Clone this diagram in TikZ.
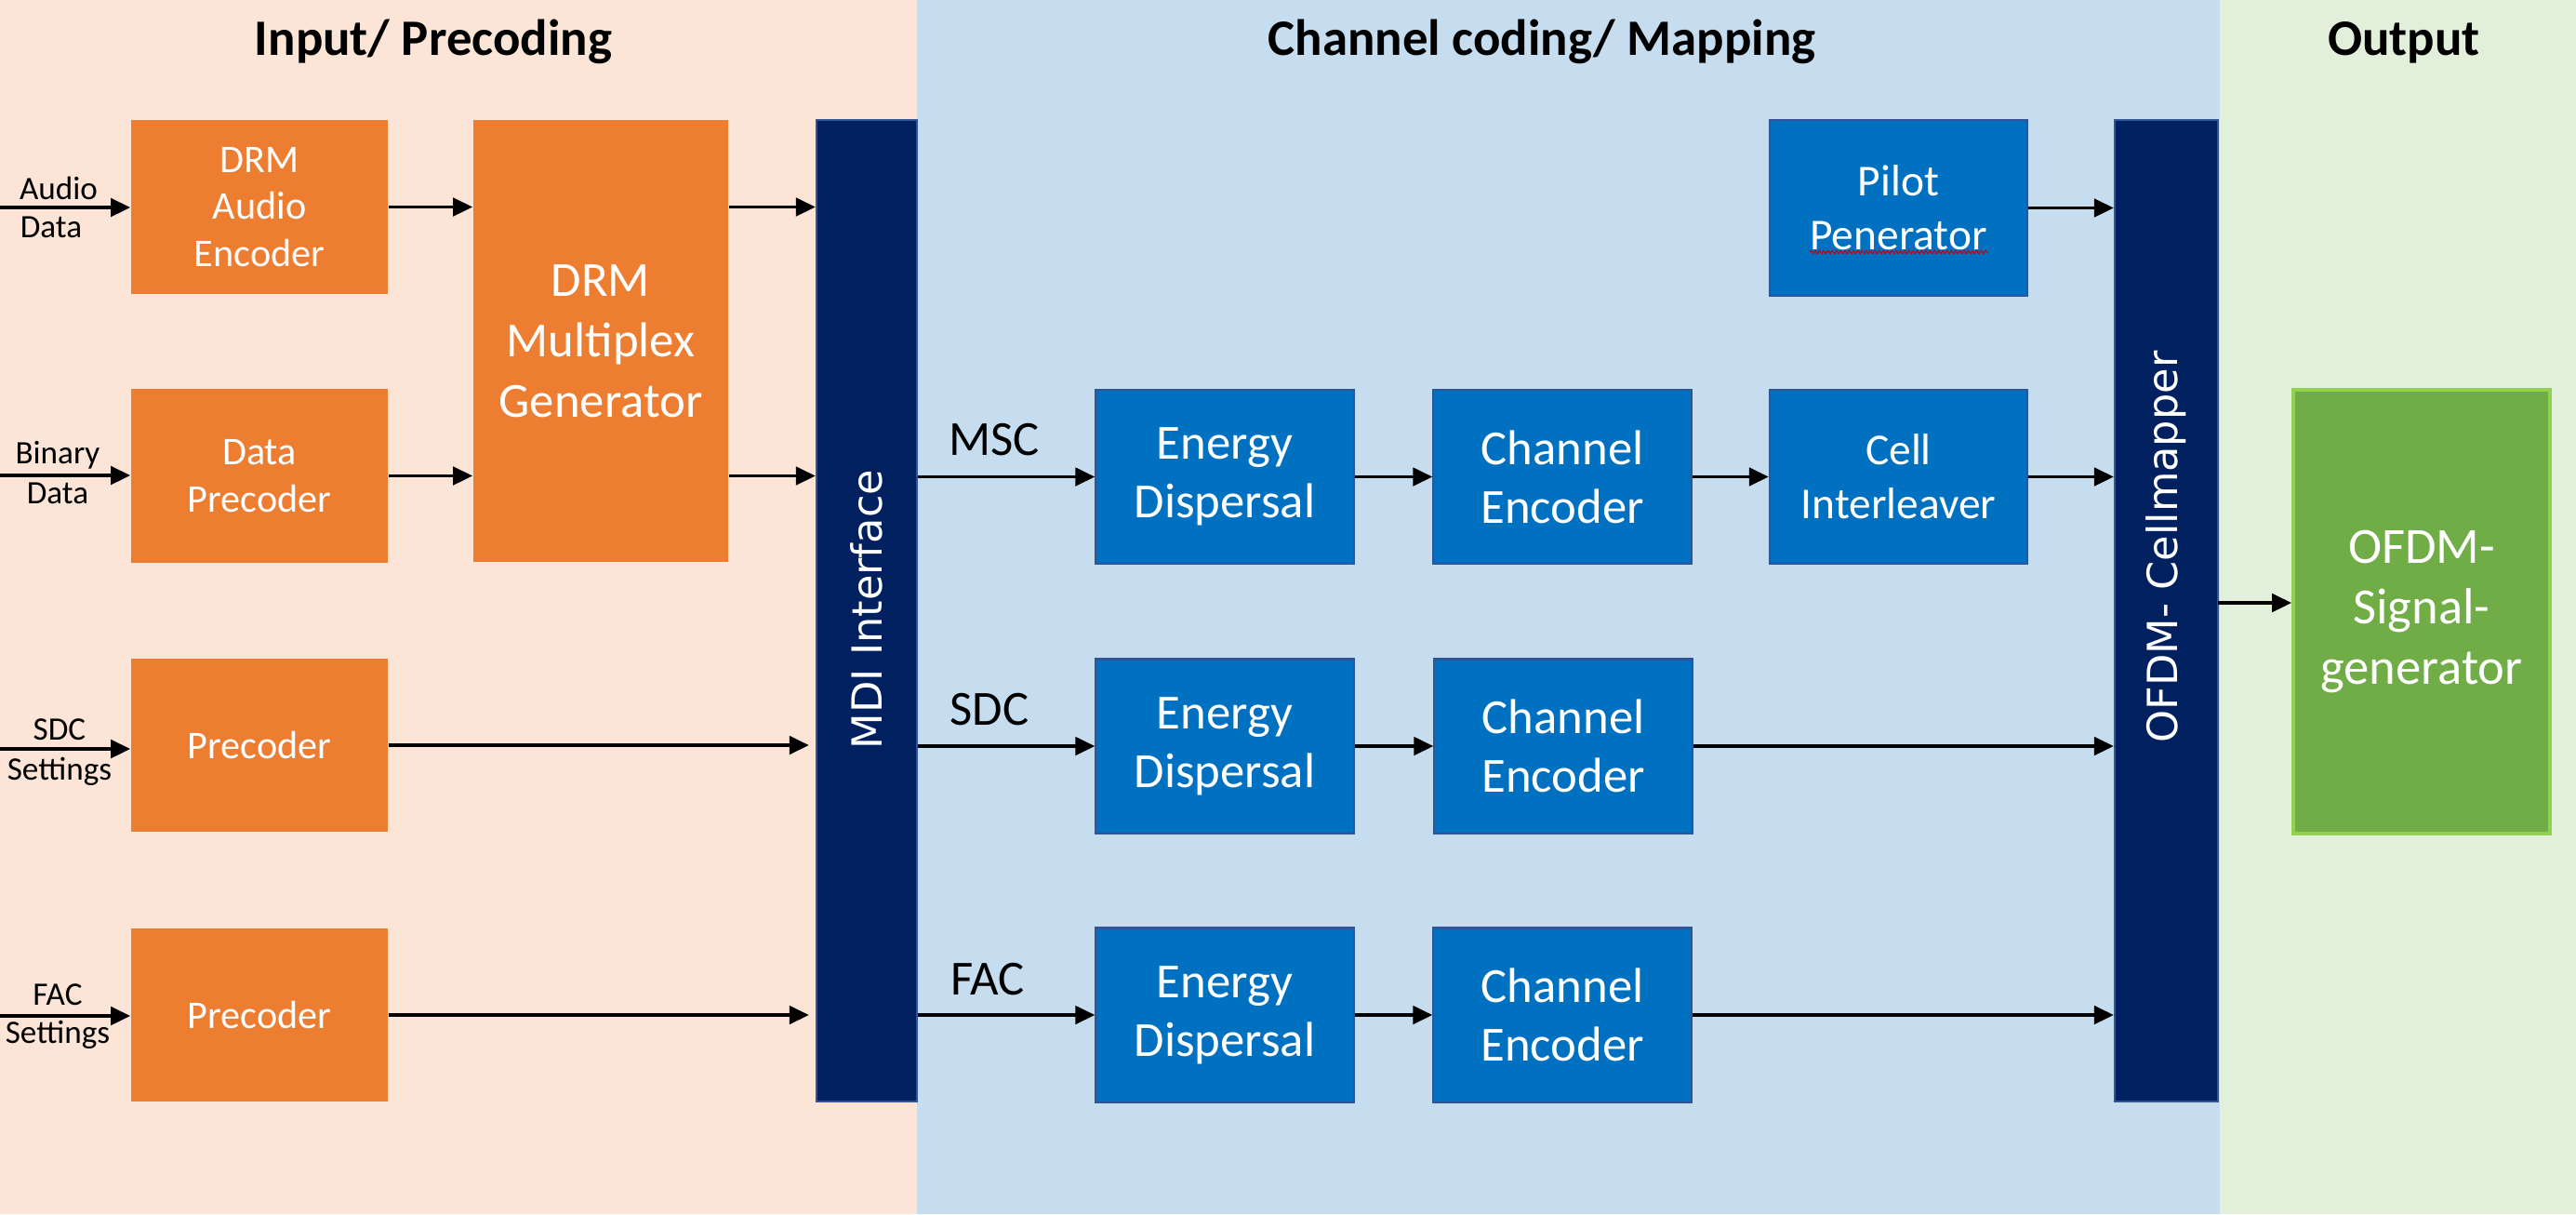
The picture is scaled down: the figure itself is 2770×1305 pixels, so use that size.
\documentclass[tikz,border=0pt]{standalone}
\usepackage{fontspec}
\setmainfont{Carlito}
\newfontfamily\dejavu{DejaVu Sans}
\usetikzlibrary{arrows.meta,decorations.pathmorphing}
\definecolor{bgorange}{HTML}{FCE4D6}
\definecolor{bgblue}{HTML}{C6DDF0}
\definecolor{bggreen}{HTML}{E2EFDA}
\definecolor{orangebx}{HTML}{ED7D31}
\definecolor{bluebx}{HTML}{0070C0}
\definecolor{bluebd}{HTML}{2F5597}
\definecolor{navybx}{HTML}{002060}
\definecolor{greenbx}{HTML}{70AD47}
\definecolor{greenbd}{HTML}{92D050}
\begin{document}
\begin{tikzpicture}[x=0.01cm,y=-0.01cm,
  obox/.style={fill=orangebx, draw=none, text=white, align=center, inner sep=0pt,
    minimum width=2.76cm, minimum height=1.86cm, font=\fontsize{12}{14.3}\selectfont},
  bbox/.style={fill=bluebx, draw=bluebd, line width=0.6pt, text=white, align=center, inner sep=0pt,
    minimum width=2.77cm, minimum height=1.87cm, font=\fontsize{15}{18}\selectfont},
  bboxs/.style={bbox, font=\fontsize{13.5}{16.5}\selectfont},
  barbox/.style={fill=navybx, draw=bluebd, line width=0.6pt, inner sep=0pt,
    minimum height=10.55cm},
  bartext/.style={rotate=90, text=white, font=\dejavu\fontsize{12.7}{15}\selectfont},
  ttl/.style={font=\bfseries\fontsize{15.6}{19}\selectfont, anchor=base},
  inlbl/.style={font=\fontsize{10}{12}\selectfont, inner sep=0pt},
  chlbl/.style={font=\fontsize{15}{18}\selectfont, inner sep=0pt},
  conn/.style={line width=1.1pt, -{Triangle[length=6pt,width=5.5pt]}}]
\useasboundingbox (0,0) rectangle (2770,1305);
% backgrounds
\fill[bgorange] (0,0) rectangle (986,1305);
\fill[bgblue] (986,0) rectangle (2387,1305);
\fill[bggreen] (2387,0) rectangle (2770,1305);
% titles
\node[ttl] (t1) at (466,59) {Input/ Precoding};
\node[ttl] (t2) at (1658,59) {Channel coding/ Mapping};
\node[ttl] (t3) at (2585,59) {Output};
% input section
\node[obox] (ae) at (279,222.5) {DRM\\Audio\\Encoder};
\node[obox] (dp) at (279,511.5) {Data\\Precoder};
\node[obox, minimum width=2.74cm, minimum height=4.75cm, font=\fontsize{15}{18.5}\selectfont] (mux) at (646,366.5) {DRM\\Multiplex\\Generator};
\node[obox] (p1) at (279,801) {Precoder};
\node[obox] (p2) at (279,1091) {Precoder};
\node[barbox, minimum width=1.08cm] (mdi) at (932,656.5) {};
\node[bartext] (mdit) at (932,655) {MDI Interface};
% input labels
\node[inlbl] (la1) at (63,202) {Audio};
\node[inlbl] (la2) at (55,244) {Data};
\node[inlbl] (lb1) at (62,489) {Binary};
\node[inlbl] (lb2) at (62,530) {Data};
\node[inlbl] (lc1) at (64,784) {SDC};
\node[inlbl] (lc2) at (64,829) {Settings};
\node[inlbl] (ld1) at (62,1069) {FAC};
\node[inlbl] (ld2) at (62,1112) {Settings};
\coordinate (ia) at (0,223);
\coordinate (ib) at (0,511);
\coordinate (ic) at (0,805);
\coordinate (id) at (0,1092);
\draw[conn] (ia) -- (ia -| ae.west);
\draw[conn] (ib) -- (ib -| dp.west);
\draw[conn] (ic) -- (ic -| p1.west);
\draw[conn] (id) -- (id -| p2.west);
\draw[conn] (ae.east) -- (ae.east -| mux.west);
\draw[conn] (dp.east) -- (dp.east -| mux.west);
\draw[conn] (mux.east |- ae) -- (mdi.west |- ae);
\draw[conn] (mux.east |- dp) -- (mdi.west |- dp);
\draw[conn, shorten >=2pt] (p1.east) -- (p1.east -| mdi.west);
\draw[conn, shorten >=2pt] (p2.east) -- (p2.east -| mdi.west);
% channel coding
\node[bbox] (ed1) at (1317,512.5) {Energy\\Dispersal};
\node[bbox] (ed2) at (1317,802) {Energy\\Dispersal};
\node[bbox] (ed3) at (1317,1091) {Energy\\Dispersal};
\node[bbox] (ce1) at (1680,512.5) {Channel\\Encoder};
\node[bbox] (ce2) at (1681,802) {Channel\\Encoder};
\node[bbox] (ce3) at (1680,1091) {Channel\\Encoder};
\node[bboxs] (ci) at (2041.5,512.5) {Cell\\Interleaver};
\node[bboxs, minimum height=1.89cm] (pg) at (2041.5,223.5) {Pilot\\Penerator};
\coordinate (sqa) at (1946,271);
\coordinate (sqb) at (2138,271);
\draw[red!80!black, line width=0.3pt, decorate, decoration={snake, amplitude=0.5pt, segment length=1.3pt}] (sqa) -- (sqb);
\node[barbox, minimum width=1.11cm] (cm) at (2329.5,656.5) {};
\node[bartext] (cmt) at (2329.5,588) {OFDM- Cellmapper};
\node[chlbl] (msc) at (1069,473) {MSC};
\node[chlbl] (sdc) at (1064,763) {SDC};
\node[chlbl] (fac) at (1062,1053) {FAC};
\draw[conn] (mdi.east |- ed1) -- (ed1.west);
\draw[conn] (mdi.east |- ed2) -- (ed2.west);
\draw[conn] (mdi.east |- ed3) -- (ed3.west);
\draw[conn] (ed1) -- (ce1);
\draw[conn] (ed2) -- (ce2);
\draw[conn] (ed3) -- (ce3);
\draw[conn] (ce1) -- (ci);
\draw[conn] (ci.east) -- (cm.west |- ci);
\draw[conn] (pg.east) -- (cm.west |- pg);
\draw[conn] (ce2.east) -- (cm.west |- ce2);
\draw[conn] (ce3.east) -- (cm.west |- ce3);
% output
\node[fill=greenbx, draw=greenbd, line width=1pt, text=white, align=center, inner sep=0pt,
  minimum width=2.76cm, minimum height=4.77cm, font=\fontsize{15.5}{18.5}\selectfont] (og) at (2604,657.5) {OFDM-\\Signal-\\generator};
\coordinate (oc) at (2385,648);
\draw[conn] (oc) -- (oc -| og.west);
\end{tikzpicture}
\end{document}
